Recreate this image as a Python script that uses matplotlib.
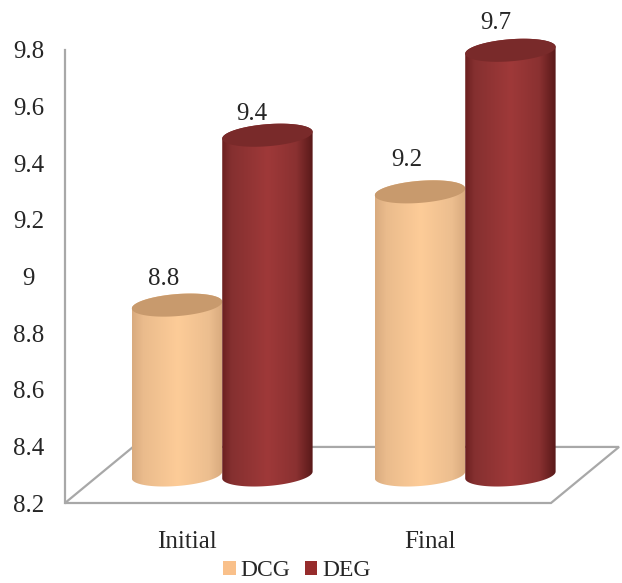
import numpy as np
import matplotlib
matplotlib.use("Agg")
import matplotlib.pyplot as plt
from matplotlib.colors import LinearSegmentedColormap
from matplotlib.patches import Patch, Polygon

categories = ["Initial", "Final"]
series_names = ["DCG", "DEG"]
dcg_values = [8.8, 9.2]
deg_values = [9.4, 9.7]
y_ticks = [8.2, 8.4, 8.6, 8.8, 9.0, 9.2, 9.4, 9.6, 9.8]
y_tick_labels = ["8.2", "8.4", "8.6", "8.8", "9", "9.2", "9.4", "9.6", "9.8"]

plt.rcParams["font.family"] = ["Liberation Serif", "DejaVu Serif"]

# fake 3D: floor depth and the half way point where the cylinders stand
floor_dx, floor_dy = 0.28, 0.198
bar_dx, bar_dy = 0.147, floor_dy / 2
bar_w = 0.372
cap_h = 0.039
cap_tilt = 0.012
text_color = "#262626"
line_color = "#a8a8a8"

dcg_cmap = LinearSegmentedColormap.from_list(
    "dcg", [(0, "#d9ab7f"), (0.12, "#eabb8c"), (0.5, "#fdcc98"),
            (0.85, "#ecbe8f"), (1, "#d8aa7e")])
deg_cmap = LinearSegmentedColormap.from_list(
    "deg", [(0, "#6c2020"), (0.1, "#853030"), (0.5, "#9f3939"),
            (0.82, "#8a3131"), (1, "#591919")])


def ring(cx, cy, start, stop):
    # tilted ellipse outline between two angles
    t = np.linspace(start, stop, 80)
    x = cx + bar_w / 2 * np.cos(t)
    y = cy + cap_h * np.sin(t) + cap_tilt * np.cos(t)
    return np.column_stack([x, y])


def cylinder(ax, x, value, cmap, cap_color, z):
    cx = x + bar_dx
    base = 8.2 + bar_dy
    top = value + bar_dy
    outline = np.vstack([ring(cx, top, 0, np.pi),
                         ring(cx, base, np.pi, 2 * np.pi)])
    body = Polygon(outline, closed=True, transform=ax.transData,
                   facecolor="none", edgecolor="none")
    ax.add_patch(body)
    body.set_clip_on(False)
    gradient = np.linspace(0, 1, 128).reshape(1, -1)
    im = ax.imshow(gradient, cmap=cmap, aspect="auto", zorder=z,
                   extent=(cx - bar_w / 2, cx + bar_w / 2, base - 0.1, top + 0.1))
    im.set_clip_box(ax.figure.bbox)
    im.set_clip_path(body)
    cap = Polygon(ring(cx, top, 0, 2 * np.pi), closed=True, facecolor=cap_color,
                  edgecolor="none", zorder=z + 0.5, clip_on=False)
    ax.add_patch(cap)
    return cx, top


fig = plt.figure(figsize=(6.22, 5.83), dpi=100)
ax = fig.add_axes([65 / 622, 80 / 583, 486 / 622, 453 / 583])
ax.set_xlim(-0.5, 1.5)
ax.set_ylim(8.2, 9.8)
ax.set_autoscale_on(False)

for side in ["top", "right", "bottom"]:
    ax.spines[side].set_visible(False)
ax.spines["left"].set_color(line_color)
ax.spines["left"].set_linewidth(1.6)

# floor parallelogram under the cylinders
floor = Polygon([(-0.5, 8.2), (1.5, 8.2), (1.5 + floor_dx, 8.2 + floor_dy),
                 (-0.5 + floor_dx, 8.2 + floor_dy)], closed=True,
                facecolor="white", edgecolor=line_color, linewidth=1.6,
                zorder=1, clip_on=False)
ax.add_patch(floor)

label_nudges = [(-13, 26), (-16, 21), (-13, 32), (-15, 27)]
label_values = []
positions = np.arange(len(categories))
for i in positions:
    label_values.append(cylinder(ax, i - bar_w / 2, dcg_values[i], dcg_cmap, "#c89a6d", 3)
                        + (dcg_values[i],))
    label_values.append(cylinder(ax, i + bar_w / 2, deg_values[i], deg_cmap, "#792a2a", 4)
                        + (deg_values[i],))

# px offsets turned into points for annotate
for (cx, top, value), (nx, ny) in zip(label_values, label_nudges):
    ax.annotate(f"{value:.1f}", (cx, top), xytext=(nx * 0.72, ny * 0.72),
                textcoords="offset points", ha="center", va="center",
                fontsize=18, color=text_color, annotation_clip=False, zorder=6)

ax.set_xticks(positions)
ax.set_xticklabels(categories, fontsize=18, color=text_color)
ax.set_yticks(y_ticks)
ax.set_yticklabels(y_tick_labels, fontsize=18, color=text_color, ha="center")
ax.tick_params(axis="x", length=0, pad=20)
ax.tick_params(axis="y", length=0, pad=26)

handles = [Patch(facecolor="#f9c08a", label=series_names[0]),
           Patch(facecolor="#962c2c", label=series_names[1])]
fig.legend(handles=handles, loc="center", bbox_to_anchor=(297 / 622, 1 - 571 / 583),
           ncol=2, frameon=False, fontsize=17, labelcolor=text_color,
           handlelength=0.53, handleheight=0.53, handletextpad=0.2,
           columnspacing=0.6, borderpad=0, borderaxespad=0)

fig.savefig("out.png", dpi=100)
